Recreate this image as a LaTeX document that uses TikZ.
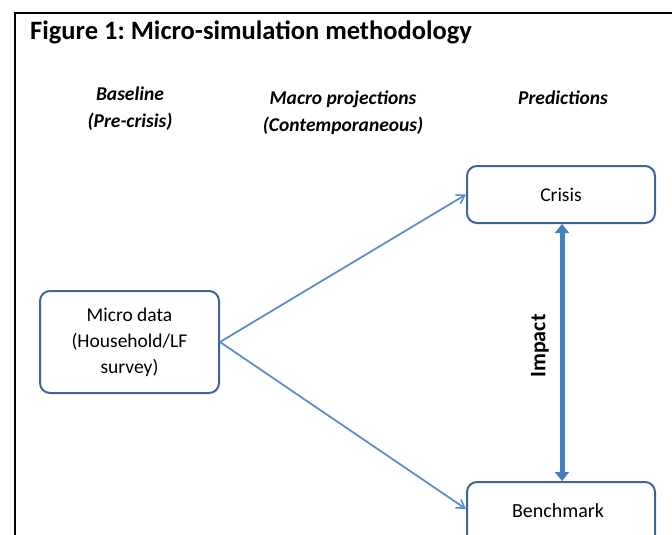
\documentclass[tikz,border=0pt]{standalone}
\usepackage{fontspec}
\setmainfont{Carlito}
\usetikzlibrary{arrows.meta}
\frenchspacing
\definecolor{boxline}{HTML}{3F6497}
\definecolor{flowline}{HTML}{5B8ED0}
\definecolor{impactblue}{HTML}{4A7EBB}
\tikzset{
  stagebox/.style={draw=boxline, line width=2pt, rounded corners=10pt, fill=white,
    align=center, inner sep=0pt, font=\fontsize{19.5}{26}\selectfont},
  colhead/.style={align=center, font=\fontsize{19.5}{27}\selectfont\bfseries\itshape},
  flow/.style={draw=flowline, line width=1.8pt, -{Straight Barb[length=8pt,width=10pt,line width=1.6pt]}},
}
\begin{document}
\begin{tikzpicture}[x=1pt,y=-1pt]
\useasboundingbox (0,0) rectangle (672,535);
% outer frame (open on the right and bottom)
\draw[line width=2.6pt] (15,535) -- (15,13) -- (672,13);
% title
\node[anchor=base west, font=\fontsize{26.5}{30}\selectfont\bfseries, inner sep=0pt] (title) at (30,40) {Figure 1: Micro-simulation methodology};
% column headings
\node[colhead] (hbase) at (130,109) {Baseline\\(Pre-crisis)};
\node[colhead] (hmacro) at (343,113) {Macro projections\\(Contemporaneous)};
\node[colhead] (hpred) at (563,98) {Predictions};
% boxes
\node[stagebox, minimum width=179pt, minimum height=102pt] (micro) at (129.5,342) {Micro data\\(Household/LF\\survey)};
\node[stagebox, minimum width=188pt, minimum height=57pt] (crisis) at (561,194.5) {Crisis};
\node[stagebox, minimum width=188pt, minimum height=90pt] (bench) at (561,527) {};
\node[font=\fontsize{20}{22}\selectfont] (benchlabel) at (558,511) {Benchmark};
% projections
\draw[flow] (micro.east) -- (crisis.west);
\draw[flow] (micro.east) -- (bench.west |- 0,509);
% impact
\draw[impactblue, line width=5pt, {Triangle[length=9pt,width=14pt]}-{Triangle[length=9pt,width=14pt]}] (crisis.south -| 562,0) -- (bench.north -| 562,0);
\node[rotate=90, font=\fontsize{22}{24}\selectfont\bfseries] (impact) at (540,346) {Impact};
\end{tikzpicture}
\end{document}
